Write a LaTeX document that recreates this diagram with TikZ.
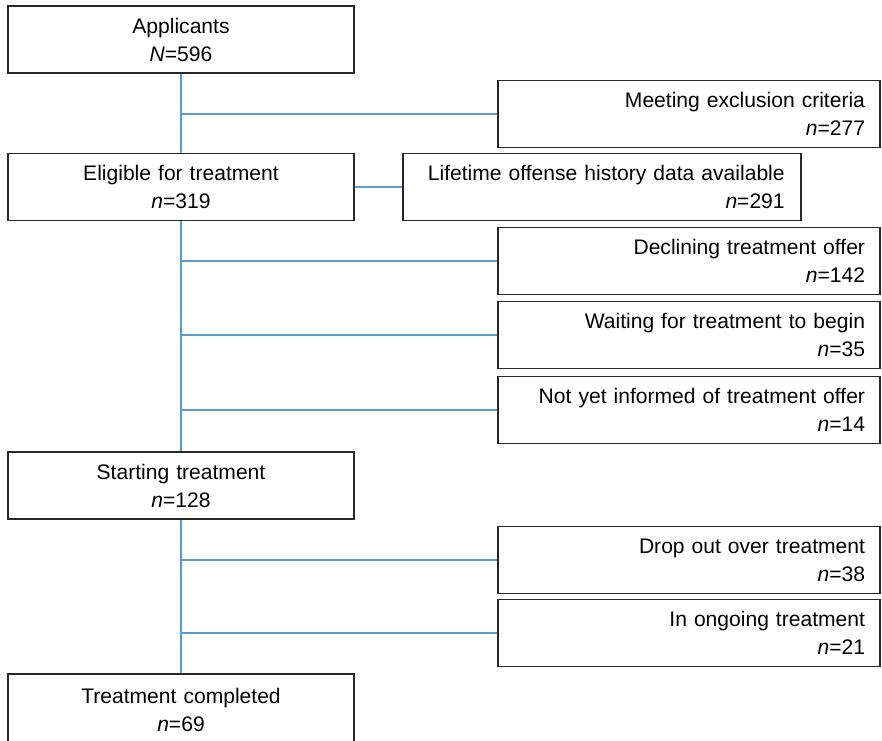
\documentclass[tikz,border=0pt]{standalone}
\usepackage{fontspec}
\setmainfont{Liberation Sans}
\definecolor{conn}{RGB}{91,155,213}
\definecolor{boxline}{RGB}{40,40,40}
\begin{document}
\begin{tikzpicture}[x=0.75pt,y=-0.75pt,
  every node/.style={font=\fontsize{15.8}{21}\selectfont},
  box/.style={draw=boxline, line width=0.8pt, rectangle, inner sep=0pt, minimum height=50.25pt},
  mainbox/.style={box, minimum width=259.5pt, text width=240pt, align=center},
  sidebox/.style={box, minimum width=286.5pt, text width=264pt, align=right},
  link/.style={draw=conn, line width=1pt}]
\useasboundingbox (0,0) rectangle (882,740);
\node[mainbox] (app) at (181,39.5) {Applicants\\\textit{N}=596};
\node[mainbox] (elig) at (181,187) {Eligible for treatment\\\textit{n}=319};
\node[mainbox] (start) at (181,485.5) {Starting treatment\\\textit{n}=128};
\node[mainbox, minimum height=54pt] (comp) at (181,710) {Treatment completed\\\textit{n}=69};
\node[sidebox] (meet) at (689,114) {Meeting exclusion criteria\\\textit{n}=277};
\node[box, minimum width=298.5pt, text width=274pt, align=right] (life) at (602,187) {Lifetime offense history data available\\\textit{n}=291};
\node[sidebox] (decl) at (689,261) {Declining treatment offer\\\textit{n}=142};
\node[sidebox] (wait) at (689,335) {Waiting for treatment to begin\\\textit{n}=35};
\node[sidebox] (noti) at (689,410) {Not yet informed of treatment offer\\\textit{n}=14};
\node[sidebox] (drop) at (689,560) {Drop out over treatment\\\textit{n}=38};
\node[sidebox] (ongo) at (689,633) {In ongoing treatment\\\textit{n}=21};
\draw[link] (app.south) -- (elig.north);
\draw[link] (elig.south) -- (start.north);
\draw[link] (start.south) -- (comp.north);
\draw[link] (app.south |- meet.west) -- (meet.west);
\draw[link] (elig.east) -- (life.west);
\draw[link] (elig.south |- decl.west) -- (decl.west);
\draw[link] (elig.south |- wait.west) -- (wait.west);
\draw[link] (elig.south |- noti.west) -- (noti.west);
\draw[link] (start.south |- drop.west) -- (drop.west);
\draw[link] (start.south |- ongo.west) -- (ongo.west);
\end{tikzpicture}
\end{document}
